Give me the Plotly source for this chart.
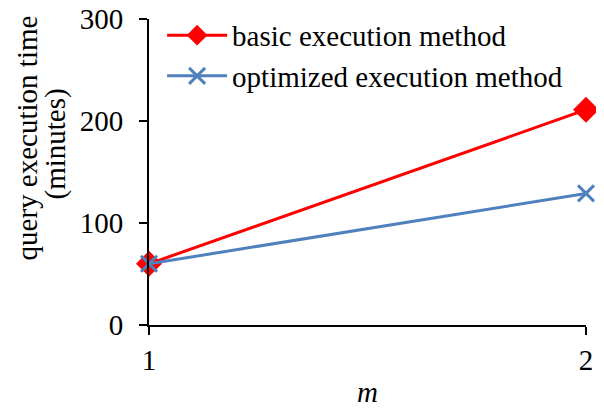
import plotly.graph_objects as go

m_values = [1, 2]
basic_times = [60, 211]
optimized_times = [60, 129]
y_ticks = [0, 100, 200, 300]
y_title_lines = ["query execution time", "(minutes)"]

font_family = "Liberation Serif, Times New Roman, serif"

fig = go.Figure()
fig.add_trace(go.Scatter(
    x=m_values, y=basic_times, mode="lines+markers",
    name="basic execution method",
    line=dict(color="#FF0000", width=3),
    marker=dict(symbol="diamond", size=20, color="#FF0000"),
    cliponaxis=False,
))
fig.add_trace(go.Scatter(
    x=m_values, y=optimized_times, mode="lines+markers",
    name="optimized execution method",
    line=dict(color="#4F81BD", width=3),
    marker=dict(symbol="x-thin", size=16, color="#4F81BD",
                line=dict(color="#4F81BD", width=3)),
    cliponaxis=False,
))

fig.update_layout(
    width=596, height=400,
    margin=dict(l=141, r=18, t=11, b=83, autoexpand=False),
    paper_bgcolor="white", plot_bgcolor="white",
    font=dict(family=font_family, size=29, color="black"),
    showlegend=True,
    legend=dict(x=0.03, y=1.03, xanchor="left", yanchor="top",
                bgcolor="rgba(0,0,0,0)", font=dict(size=29),
                tracegroupgap=0, itemwidth=60),
    xaxis=dict(
        range=[1, 2], tickvals=m_values, ticktext=[str(v) for v in m_values],
        showgrid=False, zeroline=False, showline=True, linecolor="black", linewidth=2,
        ticks="outside", ticklen=8, tickwidth=2, tickcolor="black",
        title=dict(text="<i>m</i>", standoff=8, font=dict(size=29)),
        tickfont=dict(size=29), ticklabeloverflow="allow",
    ),
    yaxis=dict(
        range=[0, 300], tickvals=y_ticks,
        showgrid=False, zeroline=False, showline=True, linecolor="black", linewidth=2,
        ticks="outside", ticklen=8, tickwidth=2, tickcolor="black",
        tickfont=dict(size=29), ticklabeloverflow="allow", ticklabelstandoff=10,
    ),
    annotations=[
        dict(text=y_title_lines[0], xref="paper", yref="paper", x=-0.279, y=0.61,
             textangle=-90, showarrow=False, font=dict(size=29),
             xanchor="center", yanchor="middle"),
        dict(text=y_title_lines[1], xref="paper", yref="paper", x=-0.215, y=0.59,
             textangle=-90, showarrow=False, font=dict(size=29),
             xanchor="center", yanchor="middle"),
    ],
)

fig.write_html("out.html")
